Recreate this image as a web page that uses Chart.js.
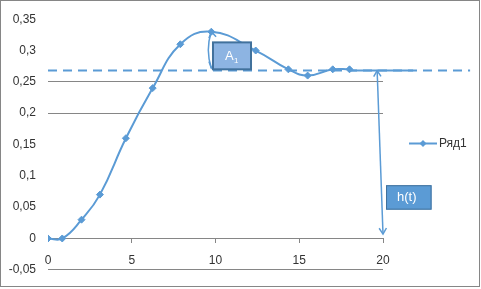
<!DOCTYPE html>
<html>
<head>
<meta charset="utf-8">
<script src="https://cdn.jsdelivr.net/npm/chart.js@4.4.0/dist/chart.umd.min.js"></script>
<style>
  html, body { margin: 0; padding: 0; background: #fff; }
</style>
</head>
<body>
<canvas id="chart" width="481" height="289"></canvas>
<script>
// series Ряд1
const timeX = [0, 0.85, 2, 3.1, 4.65, 6.25, 7.9, 9.75, 12.4, 14.35, 15.5, 17, 18];
const responseY = [0, 0, 0.03, 0.07, 0.16, 0.24, 0.31, 0.33, 0.3, 0.27, 0.26, 0.27, 0.27];
const seriesName = "Ряд1";

// drawn helpers (in data units)
const steadyLevel = 0.268;
const levelRange = [0, 25.2];
const tailRange = [18, 21.8];
const peakArrow = [9.75, 0.33, 0.272];          // x, top, bottom
const a1Box = [9.85, 12.12, 0.27, 0.313];        // x0, x1, y0, y1
const htArrow = [19.65, 0.268, 20.0, 0.007];     // x0, y0, x1, y1
const htBox = [20.18, 22.9, 0.046, 0.085];

const gridShown = [0.25, 0.2, -0.05];

const BLUE = "#5b9bd5";
const GRID = "#868686";
const TEXT = "#333333";

function arrowHead(ctx, tx, ty, ang) {
  const l = 7, w = 0.55;
  ctx.beginPath();
  ctx.moveTo(tx - l * Math.cos(ang - w), ty - l * Math.sin(ang - w));
  ctx.lineTo(tx, ty);
  ctx.lineTo(tx - l * Math.cos(ang + w), ty - l * Math.sin(ang + w));
  ctx.stroke();
}

const extras = {
  id: "extras",
  afterDatasetsDraw(chart) {
    const { ctx, scales: { x, y } } = chart;
    const px = v => x.getPixelForValue(v);
    const py = v => y.getPixelForValue(v);
    ctx.save();
    ctx.strokeStyle = BLUE;
    ctx.lineWidth = 1.5;

    // double arrow under the peak
    const ax = px(peakArrow[0]), at = py(peakArrow[1]), ab = py(peakArrow[2]);
    ctx.beginPath();
    ctx.moveTo(ax, at);
    ctx.quadraticCurveTo(ax - 6, (at + ab) / 2, ax, ab);
    ctx.stroke();
    arrowHead(ctx, ax, at, -Math.PI / 2 - 0.2);
    arrowHead(ctx, ax, ab, Math.PI / 2 + 0.2);

    // A1 box
    const bx0 = px(a1Box[0]), bx1 = px(a1Box[1]), by0 = py(a1Box[3]), by1 = py(a1Box[2]);
    ctx.fillStyle = "#8db4e2";
    ctx.fillRect(bx0, by0, bx1 - bx0, by1 - by0);
    ctx.strokeStyle = "#41719c";
    ctx.lineWidth = 2;
    ctx.strokeRect(bx0, by0, bx1 - bx0, by1 - by0);
    ctx.fillStyle = "#fff";
    ctx.font = "13px 'Liberation Sans', sans-serif";
    ctx.textBaseline = "middle";
    ctx.textAlign = "left";
    const cx = (bx0 + bx1) / 2, cy = (by0 + by1) / 2;
    ctx.fillText("A", cx - 7, cy + 1);
    ctx.font = "8px 'Liberation Sans', sans-serif";
    ctx.fillText("1", cx + 2, cy + 5);

    // h(t) arrow
    ctx.strokeStyle = BLUE;
    ctx.lineWidth = 1.5;
    const hx0 = px(htArrow[0]), hy0 = py(htArrow[1]), hx1 = px(htArrow[2]), hy1 = py(htArrow[3]);
    ctx.beginPath();
    ctx.moveTo(hx0, hy0);
    ctx.lineTo(hx1, hy1);
    ctx.stroke();
    const ang = Math.atan2(hy1 - hy0, hx1 - hx0);
    arrowHead(ctx, hx1, hy1, ang);
    arrowHead(ctx, hx0, hy0, ang + Math.PI);

    // h(t) box
    const cx0 = px(htBox[0]), cx1 = px(htBox[1]), cy0 = py(htBox[3]), cy1 = py(htBox[2]);
    ctx.fillStyle = BLUE;
    ctx.fillRect(cx0, cy0, cx1 - cx0, cy1 - cy0);
    ctx.strokeStyle = "#41719c";
    ctx.lineWidth = 1;
    ctx.strokeRect(cx0 + 0.5, cy0 + 0.5, cx1 - cx0 - 1, cy1 - cy0 - 1);
    ctx.fillStyle = "#fff";
    ctx.font = "13px 'Liberation Sans', sans-serif";
    ctx.textAlign = "center";
    ctx.fillText("h(t)", (cx0 + cx1) / 2 - 2, (cy0 + cy1) / 2);
    ctx.restore();
  },
  afterDraw(chart) {
    const { ctx, chartArea } = chart;
    ctx.save();
    // legend
    const lx = chartArea.right + 26, ly = (chartArea.top + chartArea.bottom) / 2 - 1;
    ctx.strokeStyle = BLUE;
    ctx.lineWidth = 2;
    ctx.beginPath();
    ctx.moveTo(lx, ly);
    ctx.lineTo(lx + 28, ly);
    ctx.stroke();
    ctx.fillStyle = BLUE;
    ctx.beginPath();
    ctx.moveTo(lx + 14, ly - 3.5);
    ctx.lineTo(lx + 17.5, ly);
    ctx.lineTo(lx + 14, ly + 3.5);
    ctx.lineTo(lx + 10.5, ly);
    ctx.closePath();
    ctx.fill();
    ctx.fillStyle = TEXT;
    ctx.font = "12px 'Liberation Sans', sans-serif";
    ctx.textBaseline = "middle";
    ctx.fillText(seriesName, lx + 30, ly);
    // outer frame
    ctx.strokeStyle = GRID;
    ctx.lineWidth = 1;
    ctx.strokeRect(0.5, 0.5, 479, 286);
    ctx.restore();
  }
};

new Chart(document.getElementById("chart"), {
  type: "line",
  data: {
    datasets: [
      {
        label: seriesName,
        data: timeX.map((t, i) => ({ x: t, y: responseY[i] })),
        borderColor: BLUE,
        backgroundColor: BLUE,
        borderWidth: 2,
        pointStyle: "rectRot",
        pointRadius: 3.5,
        pointBorderWidth: 1,
        tension: 0.45
      },
      {
        label: "level",
        data: levelRange.map(t => ({ x: t, y: steadyLevel })),
        borderColor: BLUE,
        borderWidth: 2,
        borderDash: [9, 6],
        pointRadius: 0,
        clip: false
      },
      {
        label: "tail",
        data: tailRange.map(t => ({ x: t, y: steadyLevel })),
        borderColor: BLUE,
        borderWidth: 2,
        pointRadius: 0,
        clip: false
      }
    ]
  },
  options: {
    responsive: false,
    animation: false,
    layout: { padding: { top: 14, bottom: 17, left: 0, right: 98 } },
    plugins: { legend: { display: false }, tooltip: { enabled: false } },
    scales: {
      x: {
        type: "linear",
        position: { y: 0 },
        min: 0,
        max: 20,
        ticks: {
          stepSize: 5,
          padding: 11,
          color: TEXT,
          font: { family: "'Liberation Sans', sans-serif", size: 12 }
        },
        grid: {
          drawOnChartArea: false,
          tickLength: 4,
          tickColor: c => (c.tick && c.tick.value === 0 ? "rgba(0,0,0,0)" : GRID)
        },
        border: { color: GRID }
      },
      y: {
        min: -0.05,
        max: 0.35,
        ticks: {
          stepSize: 0.05,
          padding: 12,
          color: TEXT,
          font: { family: "'Liberation Sans', sans-serif", size: 12 },
          callback: v => String(Math.round(v * 100) / 100).replace(".", ",")
        },
        grid: {
          drawTicks: false,
          color: c => (c.tick && gridShown.some(g => Math.abs(g - c.tick.value) < 1e-6) ? GRID : "rgba(0,0,0,0)")
        },
        border: { display: false },
        afterFit(scale) { scale.width = 48; }
      }
    }
  },
  plugins: [extras]
});
</script>
</body>
</html>
